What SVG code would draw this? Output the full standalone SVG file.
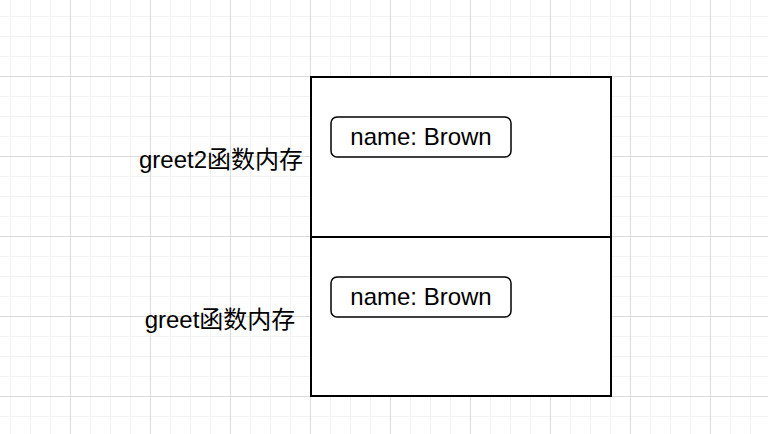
<svg xmlns="http://www.w3.org/2000/svg" width="768" height="434" viewBox="0 0 768 434">
  <style>
    .frame { fill: #ffffff; stroke: #000000; stroke-width: 2; }
    .field { fill: #ffffff; stroke: #000000; stroke-width: 1.5; }
    .fieldtext { font-family: "Liberation Sans", Arial, sans-serif; font-size: 24px; fill: #000000; text-anchor: middle; }
    .label { font-family: "Liberation Sans", "Noto Sans CJK SC", sans-serif; font-size: 24px; fill: #000000; text-anchor: middle; }
  </style>
  <defs>
    <pattern id="minor" x="10" y="16" width="20" height="20" patternUnits="userSpaceOnUse">
      <path d="M0 0.5 H20 M0.5 0 V20" fill="none" stroke="#f2f2f2" stroke-width="1"/>
    </pattern>
    <pattern id="major" x="70" y="76" width="80" height="80" patternUnits="userSpaceOnUse">
      <path d="M0 0.5 H80 M0.5 0 V80" fill="none" stroke="#dcdcdc" stroke-width="1"/>
    </pattern>
  </defs>
  <rect width="768" height="434" fill="#ffffff"/>
  <rect width="768" height="434" fill="url(#minor)"/>
  <rect width="768" height="434" fill="url(#major)"/>

  <g id="label-greet2">
    <text class="label" x="221" y="168">greet2函数内存</text>
  </g>
  <g id="label-greet">
    <text class="label" x="220" y="328">greet函数内存</text>
  </g>

  <g id="frame-greet2">
    <rect class="frame" x="311" y="77" width="300" height="160"/>
  </g>
  <g id="frame-greet">
    <rect class="frame" x="311" y="237" width="300" height="159"/>
  </g>

  <g id="field-greet2">
    <rect class="field" x="331" y="117" width="180" height="40" rx="6" ry="6"/>
    <text class="fieldtext" x="421" y="145">name: Brown</text>
  </g>
  <g id="field-greet">
    <rect class="field" x="331" y="277" width="180" height="40" rx="6" ry="6"/>
    <text class="fieldtext" x="421" y="305">name: Brown</text>
  </g>

  <g id="connectors"></g>
</svg>
